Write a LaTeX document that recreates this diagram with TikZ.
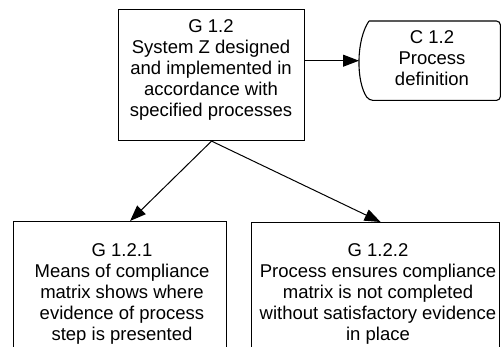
\documentclass[tikz,border=0pt]{standalone}
\usepackage{fontspec}
\setmainfont{Liberation Sans}
\usetikzlibrary{arrows.meta,calc}
\begin{document}
\begin{tikzpicture}[x=1pt,y=-1pt,
  frame/.style={draw=black, line width=1.1pt, inner sep=0pt, anchor=north west},
  ghost/.style={inner sep=0pt, anchor=north west},
  txt/.style={font=\fontsize{18.5}{21}\selectfont, align=center, inner sep=0pt, anchor=north},
  link/.style={draw=black, line width=1pt, -{Triangle[length=16pt,width=12pt]}}]
\useasboundingbox (0,0) rectangle (501,346);
\clip (0,0) rectangle (501,346);

% goal G 1.2
\node[frame, minimum width=186pt, minimum height=131pt] (g12) at (118,9) {};
\node[txt] (g12t) at (211,19.5) {G 1.2\\System Z designed\\and implemented in\\accordance with\\specified processes};

% context C 1.2
\node[ghost, minimum width=141pt, minimum height=79pt] (c12) at (359,21) {};
\draw[line width=1.1pt, rounded corners=4pt]
  ($(c12.north west)+(10,0)$) -- (c12.north east) -- (c12.south east)
  -- ($(c12.south west)+(10,0)$)
  .. controls ($(c12.south west)+(-3,-19)$) and ($(c12.north west)+(-3,19)$) .. ($(c12.north west)+(10,0)$);
\node[txt] (c12t) at (432,30.5) {C 1.2\\Process\\definition};

% sub-goals
\node[frame, minimum width=213pt, minimum height=140pt] (g121) at (13,221) {};
\node[txt] (g121t) at (122,243) {G 1.2.1\\Means of compliance\\matrix shows where\\evidence of process\\step is presented};
\node[frame, minimum width=248pt, minimum height=140pt] (g122) at (251,222) {};
\node[txt] (g122t) at (378,243) {G 1.2.2\\Process ensures compliance\\matrix is not completed\\without satisfactory evidence\\in place};

% connectors
\draw[link] (g12.east |- c12.west) -- (c12.west);
\draw[link] (g12.south) -- ($(g121.north)+(10,0)$);
\draw[link] (g12.south) -- ($(g122.north)+(5,0)$);
\end{tikzpicture}
\end{document}
